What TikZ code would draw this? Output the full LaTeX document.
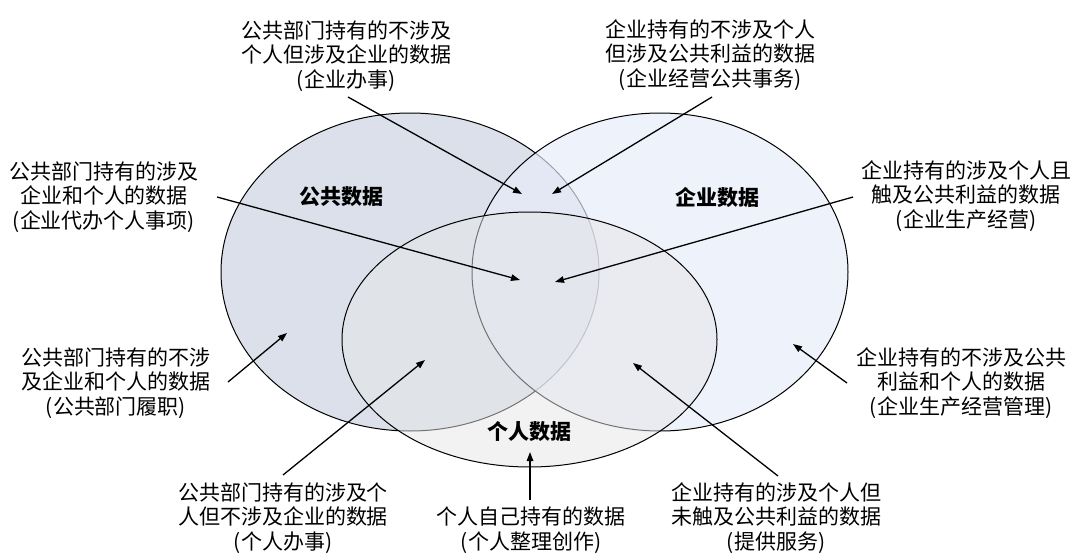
\documentclass[tikz,border=0pt]{standalone}
\usepackage{fontspec}
\setmainfont{Noto Sans CJK SC}
\usetikzlibrary{arrows.meta}
\definecolor{pubfill}{RGB}{219,224,234}
\definecolor{entfill}{RGB}{231,236,250}
\definecolor{perfill}{RGB}{230,230,232}
\begin{document}
\begin{tikzpicture}[x=1pt,y=-1pt,
  lbl/.style={align=center, inner sep=0pt, font=\fontsize{21}{24.5}\selectfont},
  vtitle/.style={inner sep=0pt, font=\fontsize{21}{24.5}\selectfont\bfseries},
  arr/.style={line width=1.3pt, -{Triangle[length=9pt,width=6.5pt]}},
  venn/.style={draw=black, line width=1pt}]
\useasboundingbox (0,0) rectangle (1072,554);
\fill[white] (0,0) rectangle (1072,554);
% Venn sets
\filldraw[venn, fill=pubfill] (410,272) ellipse [x radius=189pt, y radius=159pt];
\filldraw[venn, fill=entfill, fill opacity=0.68] (660,272) ellipse [x radius=188pt, y radius=159pt];
\filldraw[venn, fill=perfill, fill opacity=0.5] (529.5,339.5) ellipse [x radius=187.5pt, y radius=127.5pt];
% set titles
\node[vtitle] (pub) at (341,197) {公共数据};
\node[vtitle] (ent) at (717,197) {企业数据};
\node[vtitle] (per) at (529,432) {个人数据};
% labels
\node[lbl] (t1) at (346,56) {公共部门持有的不涉及\\个人但涉及企业的数据\\(企业办事)};
\node[lbl] (t2) at (710,55) {企业持有的不涉及个人\\但涉及公共利益的数据\\(企业经营公共事务)};
\node[lbl] (t3) at (104,197) {公共部门持有的涉及\\企业和个人的数据\\(企业代办个人事项)};
\node[lbl] (t4) at (966,196) {企业持有的涉及个人且\\触及公共利益的数据\\(企业生产经营)};
\node[lbl] (t5) at (116,383) {公共部门持有的不涉\\及企业和个人的数据\\(公共部门履职)};
\node[lbl] (t6) at (283,518) {公共部门持有的涉及个\\人但不涉及企业的数据\\(个人办事)};
\node[lbl] (t7) at (531,530) {个人自己持有的数据\\(个人整理创作)};
\node[lbl] (t8) at (776,518) {企业持有的涉及个人但\\未触及公共利益的数据\\(提供服务)};
\node[lbl] (t9) at (961,383) {企业持有的不涉及公共\\利益和个人的数据\\(企业生产经营管理)};
% arrow ends
\coordinate (s1) at (348,97);  \coordinate (e1) at (522,194);
\coordinate (s2) at (712,97);  \coordinate (e2) at (552,194);
\coordinate (s3) at (217,197); \coordinate (e3) at (520,280);
\coordinate (s4) at (853,197); \coordinate (e4) at (555,282);
\coordinate (s5) at (228,382); \coordinate (e5) at (287,333);
\coordinate (s6) at (283,475); \coordinate (e6) at (425,360);
\coordinate (s7) at (530,500); \coordinate (e7) at (530,452);
\coordinate (s8) at (778,476); \coordinate (e8) at (633,363);
\coordinate (s9) at (847,383); \coordinate (e9) at (793,344);
\foreach \i in {1,...,9} {\draw[arr] (s\i) -- (e\i);}
\end{tikzpicture}
\end{document}
